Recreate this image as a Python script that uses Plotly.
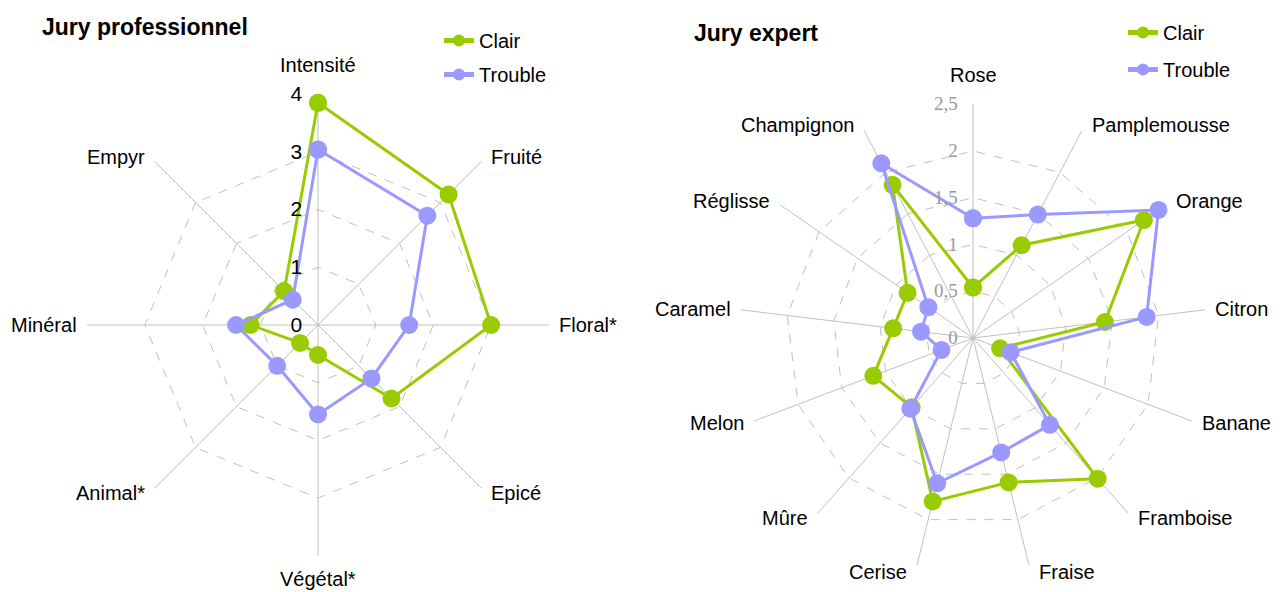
import math
import plotly.graph_objects as go

# ---- data ----
pro_categories = ["Intensité", "Fruité", "Floral*", "Epicé", "Végétal*", "Animal*", "Minéral", "Empyr"]
pro_clair = [3.85, 3.2, 3.0, 1.8, 0.52, 0.44, 1.17, 0.83]
pro_trouble = [3.04, 2.68, 1.58, 1.31, 1.55, 1.0, 1.42, 0.62]
pro_ticks = [0, 1, 2, 3, 4]
pro_ticktext = ["0", "1", "2", "3", "4"]

exp_categories = ["Rose", "Pamplemousse", "Orange", "Citron", "Banane", "Framboise", "Fraise",
                  "Cerise", "Mûre", "Melon", "Caramel", "Réglisse", "Champignon"]
exp_clair = [0.54, 1.12, 2.22, 1.42, 0.31, 2.01, 1.59, 1.8, 0.99, 1.14, 0.86, 0.85, 1.85]
exp_trouble = [1.28, 1.49, 2.41, 1.87, 0.43, 1.24, 1.26, 1.6, 1.01, 0.36, 0.56, 0.58, 2.11]
exp_ticks = [0, 0.5, 1, 1.5, 2, 2.5]
exp_ticktext = ["0", "0,5", "1", "1,5", "2", "2,5"]

GREEN = "#99CC00"
PURPLE = "#9999FF"
GRID = "#C0C0C0"
FONT = "Liberation Sans, Arial, sans-serif"
SERIF = "Liberation Serif, Times New Roman, serif"

# page is 1283x592; the HTML body has an 8px margin
PAGE_W, PAGE_H, BODY = 1283, 592, 8
W, H = PAGE_W - BODY, PAGE_H - BODY
PRO_GEOM = (318, 325, 231)   # page-pixel centre x, y and radius
EXP_GEOM = (973, 338, 234)

def px(x):
    return (x - BODY) / W

def py(y):
    return 1 - (y - BODY) / H

def close(lst):
    return list(lst) + [lst[0]]

fig = go.Figure()

for name, vals, color, grp in [("Clair", pro_clair, GREEN, "a"), ("Trouble", pro_trouble, PURPLE, "b")]:
    fig.add_trace(go.Scatterpolar(
        r=close(vals), theta=close(pro_categories), name=name, mode="lines+markers",
        line=dict(color=color, width=3), marker=dict(size=18, color=color),
        subplot="polar", legend="legend", legendgroup=grp))

for name, vals, color, grp in [("Clair", exp_clair, GREEN, "c"), ("Trouble", exp_trouble, PURPLE, "d")]:
    fig.add_trace(go.Scatterpolar(
        r=close(vals), theta=close(exp_categories), name=name, mode="lines+markers",
        line=dict(color=color, width=3), marker=dict(size=18, color=color),
        subplot="polar2", legend="legend2", legendgroup=grp))

def polar_cfg(geom, cats, rng, ticks, ticktext, tickfont):
    cx, cy, rad = geom
    return dict(
        domain=dict(x=[px(cx - rad), px(cx + rad)], y=[py(cy + rad), py(cy - rad)]),
        bgcolor="white",
        gridshape="linear",
        angularaxis=dict(
            categoryorder="array", categoryarray=cats,
            rotation=90, direction="clockwise",
            showline=False, ticks="", showgrid=True, showticklabels=False,
            gridcolor=GRID, gridwidth=1,
        ),
        radialaxis=dict(
            range=rng, angle=90, side="counterclockwise",
            tickvals=ticks, ticktext=ticktext, tickangle=90,
            showline=False, ticks="outside", ticklen=8, tickcolor="rgba(0,0,0,0)",
            showgrid=True, gridcolor=GRID, gridwidth=1, griddash="dash",
            tickfont=tickfont,
        ),
    )

# category labels placed around each radar, Excel style
def category_annotations(cats, geom):
    cx, cy, rad = geom
    n = len(cats)
    out = []
    for i, c in enumerate(cats):
        a = math.radians(90 - i * 360.0 / n)
        co, si = math.cos(a), math.sin(a)
        vx, vy = cx + rad * co, cy - rad * si
        if abs(co) < 0.05:
            xa = "center"
            x = vx
            y = vy - 29 if si > 0 else vy + 23
        else:
            xa = "left" if co > 0 else "right"
            x = vx + (8 if co > 0 else -8)
            y = vy - 7 * si
        out.append(dict(text=c, x=px(x), y=py(y), xref="paper", yref="paper",
                        xanchor=xa, yanchor="middle", showarrow=False,
                        font=dict(family=FONT, size=20, color="black")))
    return out

annotations = [
    dict(text="<b>Jury professionnel</b>", x=px(40), y=py(27), xref="paper", yref="paper",
         xanchor="left", yanchor="middle", showarrow=False, font=dict(family=FONT, size=23)),
    dict(text="<b>Jury expert</b>", x=px(692), y=py(33), xref="paper", yref="paper",
         xanchor="left", yanchor="middle", showarrow=False, font=dict(family=FONT, size=23)),
]
annotations += category_annotations(pro_categories, PRO_GEOM)
annotations += category_annotations(exp_categories, EXP_GEOM)

fig.update_layout(
    width=W, height=H,
    margin=dict(l=0, r=0, t=0, b=0),
    paper_bgcolor="white",
    font=dict(family=FONT, size=20, color="black"),
    polar=polar_cfg(PRO_GEOM, pro_categories, [0, 4.003], pro_ticks, pro_ticktext,
                    dict(family=FONT, size=21, color="black")),
    polar2=polar_cfg(EXP_GEOM, exp_categories, [0, 2.502], exp_ticks, exp_ticktext,
                     dict(family=SERIF, size=19, color="#999999")),
    legend=dict(x=px(439), y=py(21), xanchor="left", yanchor="top",
                bgcolor="rgba(0,0,0,0)", font=dict(family=FONT, size=20),
                traceorder="grouped", tracegroupgap=5, itemsizing="constant"),
    legend2=dict(x=px(1123), y=py(13), xanchor="left", yanchor="top",
                 bgcolor="rgba(0,0,0,0)", font=dict(family=FONT, size=20),
                 traceorder="grouped", tracegroupgap=8, itemsizing="constant"),
    annotations=annotations,
)

fig.write_html("out.html")
